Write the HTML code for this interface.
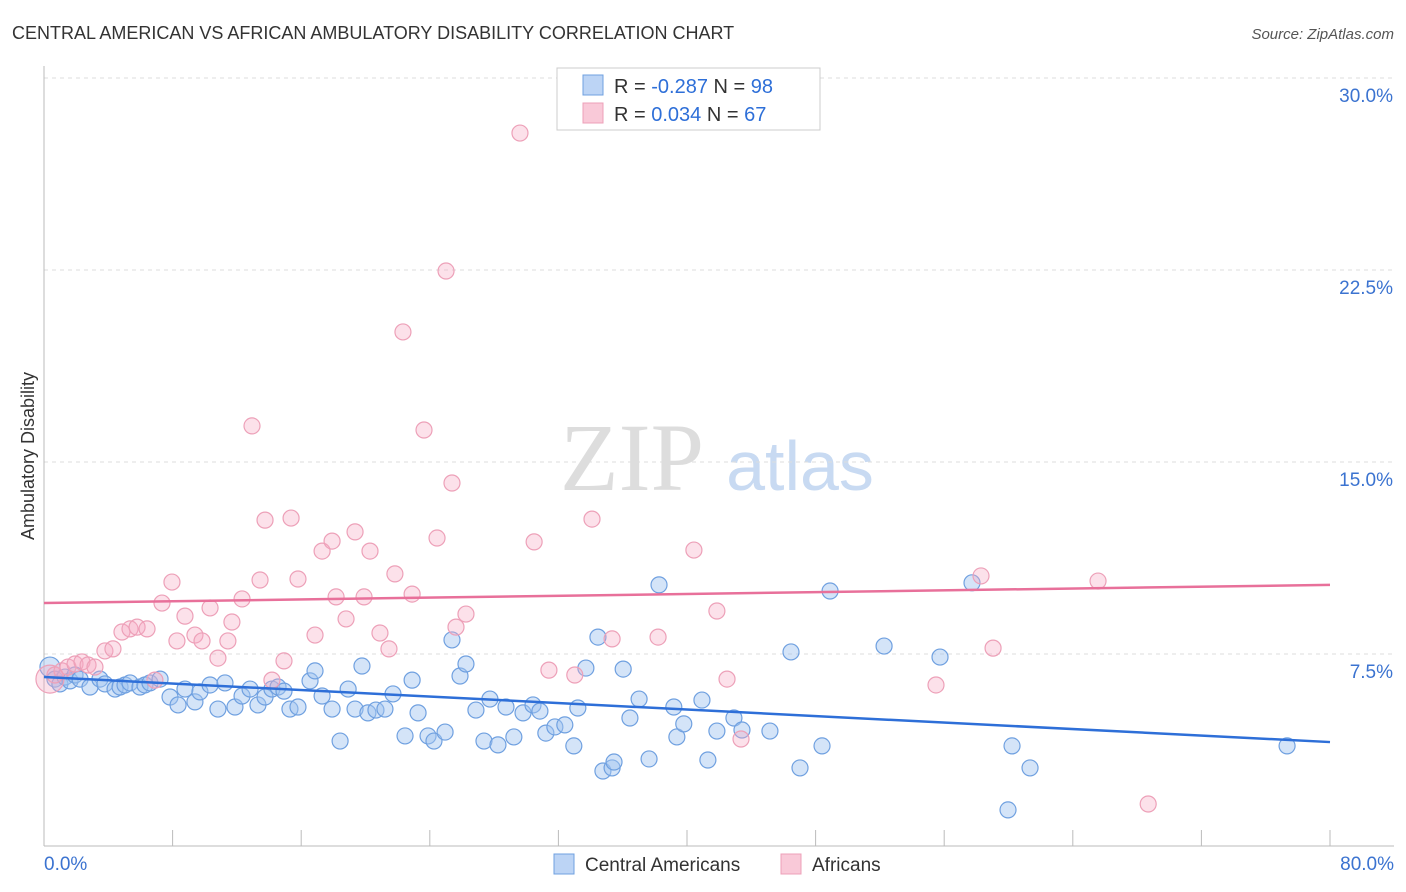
<!DOCTYPE html>
<html><head><meta charset="utf-8"><style>
body{margin:0;background:#fff;font-family:"Liberation Sans",sans-serif}
svg{display:block}
</style></head><body>
<svg id="c" width="1406" height="892" xmlns="http://www.w3.org/2000/svg">
<text x="12" y="39" font-size="18" fill="#333">CENTRAL AMERICAN VS AFRICAN AMBULATORY DISABILITY CORRELATION CHART</text>
<text x="1394" y="39" font-size="15" fill="#555" font-style="italic" text-anchor="end">Source: ZipAtlas.com</text>
<text x="0" y="0" transform="translate(34,456) rotate(-90)" font-size="18" fill="#333" text-anchor="middle">Ambulatory Disability</text>
<text x="632" y="490" font-size="96" fill="#ddd" font-family="Liberation Serif" text-anchor="middle">ZIP</text>
<text x="800" y="490" font-size="70" fill="#c8daf2" text-anchor="middle">atlas</text>
<g id="grid"></g><g id="pts"></g><g id="lines"></g>
<g>
<rect x="557" y="68" width="263" height="62" fill="#fff" stroke="#ccc"/>
<rect x="583" y="75" width="20" height="20" fill="#bcd4f5" stroke="#6fa0e0"/>
<rect x="583" y="103" width="20" height="20" fill="#f9c9d8" stroke="#eda0b8"/>
<text x="614" y="93" font-size="20" fill="#333">R = <tspan fill="#2e6fd8">-0.287</tspan>   N = <tspan fill="#2e6fd8">98</tspan></text>
<text x="614" y="121" font-size="20" fill="#333">R =  <tspan fill="#2e6fd8">0.034</tspan>   N = <tspan fill="#2e6fd8">67</tspan></text>
</g>
<g>
<rect x="554" y="854" width="20" height="20" fill="#bcd4f5" stroke="#6fa0e0"/>
<text x="585" y="871" font-size="19" fill="#333">Central Americans</text>
<rect x="781" y="854" width="20" height="20" fill="#f9c9d8" stroke="#eda0b8"/>
<text x="812" y="871" font-size="19" fill="#333">Africans</text>
</g>
<text x="44" y="870" font-size="19" fill="#3b73d0">0.0%</text>
<text x="1394" y="870" font-size="19" fill="#3b73d0" text-anchor="end">80.0%</text>
</svg>
<script>
const yTicks=[7.5,15,22.5,30];
const yTickLabels=["7.5%","15.0%","22.5%","30.0%"];
const blueX=[0.37,0.68,0.99,1.31,1.62,1.93,2.24,2.86,3.48,3.79,4.42,4.73,5.04,5.35,5.97,6.28,6.59,7.22,7.84,8.34,8.77,9.39,9.70,10.33,10.82,11.26,11.88,12.32,12.82,13.31,13.75,14.18,14.56,14.93,15.30,15.80,16.55,16.86,17.30,17.92,18.42,18.92,19.35,19.78,20.15,20.65,21.21,21.71,22.46,22.90,23.27,23.89,24.26,24.95,25.38,25.88,26.25,26.87,27.37,27.74,28.24,28.74,29.23,29.80,30.42,30.85,31.22,31.78,32.40,32.96,33.21,33.71,34.46,34.77,35.34,35.46,36.03,36.45,37.02,37.64,38.26,39.18,39.37,39.80,40.93,41.30,41.86,42.92,43.42,45.16,46.47,47.03,48.40,48.90,52.26,55.74,57.73,59.97,60.22,61.34,77.33];
const blueY=[6.99,6.52,6.33,6.60,6.45,6.68,6.52,6.21,6.52,6.33,6.13,6.21,6.29,6.37,6.21,6.29,6.37,6.52,5.82,5.51,6.13,5.63,6.02,6.29,5.35,6.37,5.43,5.86,6.13,5.51,5.82,6.13,6.21,6.05,5.35,5.43,6.45,6.84,5.86,5.35,4.10,6.13,5.35,7.03,5.20,5.31,5.35,5.94,4.30,6.48,5.20,4.30,4.10,4.45,8.05,6.64,7.11,5.31,4.10,5.74,3.95,5.43,4.26,5.20,5.51,5.27,4.41,4.65,4.73,3.91,5.39,6.95,8.16,2.93,3.05,3.28,6.91,5.00,5.74,3.40,10.20,5.43,4.26,4.77,5.70,3.36,4.49,5.00,4.53,4.49,7.58,3.05,3.91,9.96,7.81,7.38,10.28,1.41,3.91,3.05,3.91,2.50];
const pinkX=[0.37,0.68,1.12,1.49,1.93,2.36,2.74,3.17,3.79,4.29,4.85,5.35,5.79,6.41,6.90,7.34,7.96,8.27,8.77,9.39,9.83,10.33,10.82,11.44,11.69,12.32,12.94,13.44,13.75,14.18,14.93,15.37,15.80,16.86,17.30,17.92,18.17,18.79,19.35,19.91,20.28,20.90,21.46,21.83,22.33,22.90,23.64,24.45,25.01,25.38,25.63,26.25,29.61,30.49,31.41,33.02,34.09,35.34,38.20,40.43,41.86,42.49,43.36,55.49,58.29,59.04,65.57,68.69];
const pinkY=[6.52,6.68,6.84,6.99,7.11,7.19,7.07,6.99,7.62,7.70,8.36,8.48,8.55,8.48,6.48,9.49,10.31,8.01,8.98,8.24,8.01,9.30,7.34,8.01,8.75,9.65,16.41,10.39,12.73,6.48,7.23,12.81,10.43,8.24,11.52,11.91,9.73,8.87,12.27,9.73,11.52,8.32,7.70,10.63,20.08,9.84,16.25,12.03,22.46,14.18,8.55,9.06,27.85,11.88,6.87,6.68,12.77,8.09,8.16,11.56,9.18,6.52,4.18,6.29,10.55,7.73,10.35,1.64];
const blueTrend=[0,6.60,80,4.06];
const pinkTrend=[0,9.49,80,10.20];
const X0=44,X1=1330,YB=846,PX=192/7.5;
const sx=v=>X0+(X1-X0)*v/80, sy=v=>YB-v*PX;
const NS="http://www.w3.org/2000/svg";
function mk(t,p,a){const e=document.createElementNS(NS,t);for(const k in a)e.setAttribute(k,a[k]);p.appendChild(e);return e;}
const svg=document.getElementById('c'),grid=document.getElementById('grid'),pts=document.getElementById('pts'),lines=document.getElementById('lines');
yTicks.forEach((v,i)=>{
 const l=mk('line',grid,{x1:X0,x2:1394,y1:sy(v),y2:sy(v),stroke:'#ddd','stroke-dasharray':'4,4'});
 
 
 const t=mk('text',grid,{x:1393,y:sy(v)+24,'font-size':19,fill:'#3b73d0','text-anchor':'end'});
 t.textContent=yTickLabels[i];
 
 
});
const ax=mk('line',grid,{x1:X0,x2:X0,y1:66,y2:YB,stroke:'#bbb'});


const bx=mk('line',grid,{x1:X0,x2:1394,y1:YB,y2:YB,stroke:'#bbb'});


for(let i=0;i<=10;i++){const t=mk('line',grid,{x1:sx(i*8),x2:sx(i*8),y1:YB,y2:YB-16,stroke:'#bbb'});
 
 }
blueX.forEach((x,i)=>{const c=mk('circle',pts,{cx:sx(x),cy:sy(blueY[i]),r:i===0?10:8,fill:'rgba(160,196,240,0.45)',stroke:'#6fa0e0','stroke-width':1.2});
 
 });
pinkX.forEach((x,i)=>{const c=mk('circle',pts,{cx:sx(x),cy:sy(pinkY[i]),r:i===0?14:8,fill:'rgba(245,170,195,0.35)',stroke:'#eda0b8','stroke-width':1.2});
 
 });
const lb=mk('line',lines,{x1:sx(blueTrend[0]),y1:sy(blueTrend[1]),x2:sx(blueTrend[2]),y2:sy(blueTrend[3]),stroke:'#2e6fd8','stroke-width':2.5});


const lp=mk('line',lines,{x1:sx(pinkTrend[0]),y1:sy(pinkTrend[1]),x2:sx(pinkTrend[2]),y2:sy(pinkTrend[3]),stroke:'#e8709a','stroke-width':2.5});


</script>
</body></html>
